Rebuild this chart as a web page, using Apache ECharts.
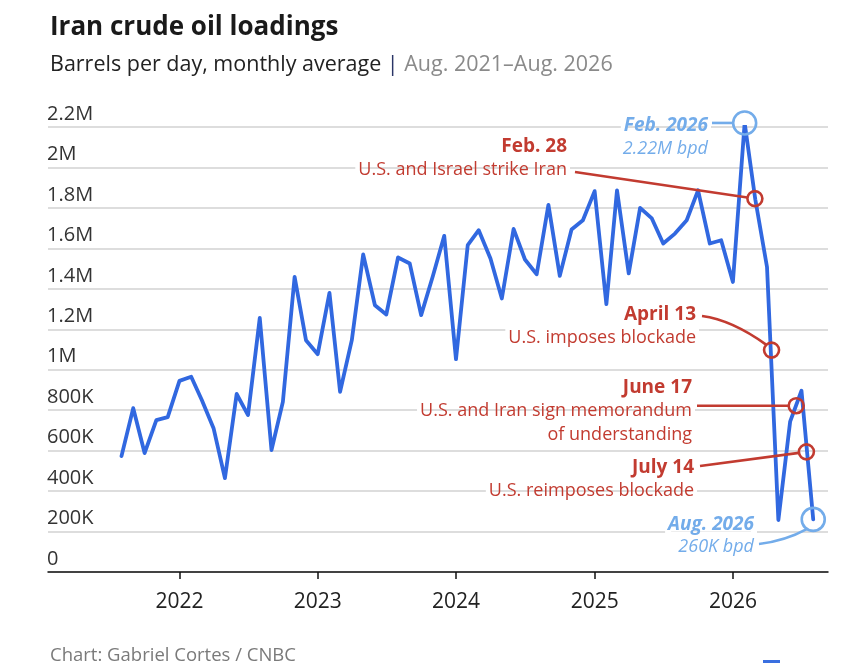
<!DOCTYPE html>
<html>
<head>
<meta charset="utf-8">
<script src="https://cdn.jsdelivr.net/npm/echarts@6/dist/echarts.min.js"></script>
<style>
html,body{margin:0;padding:0;background:#fff;}
#chart{width:841px;height:663px;}
</style>
</head>
<body>
<div id="chart"></div>
<script>
// ---- data ----
const months = [
 '2021-08-01','2021-09-01','2021-10-01','2021-11-01','2021-12-01',
 '2022-01-01','2022-02-01','2022-03-01','2022-04-01','2022-05-01','2022-06-01','2022-07-01','2022-08-01','2022-09-01','2022-10-01','2022-11-01','2022-12-01',
 '2023-01-01','2023-02-01','2023-03-01','2023-04-01','2023-05-01','2023-06-01','2023-07-01','2023-08-01','2023-09-01','2023-10-01','2023-11-01','2023-12-01',
 '2024-01-01','2024-02-01','2024-03-01','2024-04-01','2024-05-01','2024-06-01','2024-07-01','2024-08-01','2024-09-01','2024-10-01','2024-11-01','2024-12-01',
 '2025-01-01','2025-02-01','2025-03-01','2025-04-01','2025-05-01','2025-06-01','2025-07-01','2025-08-01','2025-09-01','2025-10-01','2025-11-01','2025-12-01',
 '2026-01-01','2026-02-01','2026-03-01','2026-04-01','2026-05-01','2026-06-01','2026-07-01','2026-08-01'
];
const loadings = [
 573000, 810000, 588000, 751000, 766000,
 945000, 965000, 850000, 711000, 464000, 880000, 776000, 1256000, 603000, 841000, 1459000, 1146000,
 1077000, 1380000, 891000, 1146000, 1570000, 1319000, 1273000, 1555000, 1525000, 1270000, 1463000, 1662000,
 1052000, 1616000, 1690000, 1550000, 1352000, 1696000, 1545000, 1472000, 1815000, 1464000, 1693000, 1739000,
 1883000, 1324000, 1887000, 1476000, 1800000, 1748000, 1624000, 1673000, 1739000, 1887000, 1624000, 1640000,
 1434000, 2220000, 1843000, 1508000, 257000, 743000, 896000, 260000
];
const yTickLabels = ['0','200K','400K','600K','800K','1M','1.2M','1.4M','1.6M','1.8M','2M','2.2M'];
const yearTicks = ['2022','2023','2024','2025','2026'];

// event annotations (dates and where their markers sit)
const eventDates = ['2026-02-28','2026-04-13','2026-06-17','2026-07-14'];
const eventValues = [1846000, 1097000, 822000, 594000];
const eventTitles = ['Feb. 28','April 13','June 17','July 14'];
const eventTexts = [
 ['U.S. and Israel strike Iran'],
 ['U.S. imposes blockade'],
 ['U.S. and Iran sign memorandum','of understanding'],
 ['U.S. reimposes blockade']
];
// highlighted points
const highlightDates = ['2026-02-01','2026-08-01'];
const highlightTitles = ['Feb. 2026','Aug. 2026'];
const highlightTexts = ['2.22M bpd','260K bpd'];

// ---- chart ----
const FONT = 'Open Sans';
const RED = '#c23b30';
const LBLUE = '#73acea';
const LINE = '#3168e0';
const T = s => Date.parse(s + 'T00:00:00Z');

const chart = echarts.init(document.getElementById('chart'), null, {renderer:'canvas'});
const seriesData = months.map((m,i)=>[T(m), loadings[i]]);
const yearValues = yearTicks.map(y => T(y + '-01-01'));

chart.setOption({
  animation:false,
  backgroundColor:'#fff',
  title:[{
    text:'Iran crude oil loadings',
    left:45, top:10,
    textStyle:{fontFamily:FONT,fontSize:26,fontWeight:'bold',color:'#1a1a1a'}
  },{
    text:'{a|Barrels per day, monthly average} {b||} {c|Aug. 2021–Aug. 2026}',
    left:45, top:49,
    textStyle:{
      fontFamily:FONT,fontSize:21.5,fontWeight:'normal',
      rich:{
        a:{fontFamily:FONT,fontSize:21.5,fontWeight:'normal',color:'#222'},
        b:{fontFamily:FONT,fontSize:21.5,fontWeight:'normal',color:'#2a3566'},
        c:{fontFamily:FONT,fontSize:21.5,fontWeight:'normal',color:'#8a8a8a'}
      }
    }
  },{
    text:'Chart: Gabriel Cortes / CNBC',
    left:45, top:641,
    textStyle:{fontFamily:FONT,fontSize:18.5,fontWeight:'normal',color:'#7a7a7a'}
  }],
  grid:{left:48,right:13,top:127,bottom:91},
  xAxis:{
    type:'value',
    min:T('2021-01-19'),
    max:T('2026-09-09'),
    axisLine:{show:true,lineStyle:{color:'#111',width:1.5}},
    axisTick:{show:true,length:7,lineStyle:{color:'#111',width:1.5},customValues:yearValues},
    axisLabel:{
      customValues:yearValues,
      formatter:(v)=>yearTicks[yearValues.indexOf(v)] || String(new Date(v).getUTCFullYear()),
      fontFamily:FONT,fontSize:21,color:'#222',margin:20
    },
    splitLine:{show:false}
  },
  yAxis:{
    type:'value',
    min:0,max:2200000,interval:200000,
    axisLine:{show:false},
    axisTick:{show:false},
    axisLabel:{
      inside:true,margin:-1,align:'left',verticalAlign:'bottom',
      padding:[0,0,3,0],
      fontFamily:FONT,fontSize:20,color:'#333',
      formatter:(v)=>yTickLabels[Math.round(v/200000)]
    },
    splitLine:{show:true,lineStyle:{color:'#d2d2d2',width:1.5}}
  },
  series:[{
    type:'line',
    data:seriesData,
    showSymbol:false,
    symbol:'none',
    lineStyle:{color:LINE,width:3.8,cap:'round',join:'round'},
    z:3
  }]
});

function px(d,v){ return chart.convertToPixel({xAxisIndex:0,yAxisIndex:0},[T(d),v]); }

const halo = {textBorderColor:'#fff',textBorderWidth:6};
const g = [];
function txt(x,y,s,opts){
  g.push({type:'text',x:x,y:y,z:20,style:Object.assign({
    text:s,fontFamily:FONT,fontSize:18,align:'right',verticalAlign:'middle'
  },halo,opts)});
}
function circle(c,r,color){
  g.push({type:'circle',z:21,shape:{cx:c[0],cy:c[1],r:r},style:{fill:'none',stroke:color,lineWidth:2.6}});
}

// event text layout (right edge, title y)
const evLayout = [
  {x:567,y:147},
  {x:696,y:315},
  {x:692,y:388},
  {x:694,y:468}
];
const ev = eventDates.map((d,i)=>px(d,eventValues[i]));
eventTitles.forEach((t,i)=>{
  const L = evLayout[i];
  txt(L.x,L.y,t,{fill:RED,fontWeight:'bold',fontSize:19});
  eventTexts[i].forEach((s,j)=>txt(L.x,L.y+24*(j+1)-1,s,{fill:RED}));
});
const r1 = 7.5;
function straight(sx,sy,c,color){
  const dx=c[0]-sx, dy=c[1]-sy, len=Math.hypot(dx,dy);
  g.push({type:'line',z:19,shape:{x1:sx,y1:sy,x2:c[0]-dx/len*r1,y2:c[1]-dy/len*r1},style:{stroke:color,lineWidth:2.6}});
}
straight(575,172,ev[0],RED);
g.push({type:'bezierCurve',z:19,shape:{x1:702,y1:316,cpx1:732,cpy1:320,x2:ev[1][0]-5.5,y2:ev[1][1]-5.5},style:{stroke:RED,lineWidth:2.6,fill:'none'}});
g.push({type:'line',z:19,shape:{x1:697,y1:ev[2][1],x2:ev[2][0]-r1,y2:ev[2][1]},style:{stroke:RED,lineWidth:2.6}});
straight(700,466,ev[3],RED);
ev.forEach(c=>circle(c,r1,RED));

// highlighted points
const hi = highlightDates.map(d=>px(d, loadings[months.indexOf(d)]));
const r2 = 11.5;
txt(708,126,highlightTitles[0],{fill:LBLUE,fontWeight:'bold',fontStyle:'italic',fontSize:19});
txt(708,149,highlightTexts[0],{fill:LBLUE,fontStyle:'italic'});
g.push({type:'line',z:19,shape:{x1:712,y1:hi[0][1],x2:hi[0][0]-r2,y2:hi[0][1]},style:{stroke:LBLUE,lineWidth:2.6}});
circle(hi[0],r2,LBLUE);

txt(754,525,highlightTitles[1],{fill:LBLUE,fontWeight:'bold',fontStyle:'italic',fontSize:19});
txt(754,547,highlightTexts[1],{fill:LBLUE,fontStyle:'italic'});
g.push({type:'bezierCurve',z:19,shape:{x1:759,y1:544,cpx1:785,cpy1:541,x2:hi[1][0]-6,y2:hi[1][1]+9.5},style:{stroke:LBLUE,lineWidth:2.6,fill:'none'}});
circle(hi[1],r2,LBLUE);

// small logo mark at bottom right
g.push({type:'rect',z:5,shape:{x:763,y:660,width:17,height:3},style:{fill:'#3a6fe0'}});

chart.setOption({graphic:g});
</script>
</body>
</html>
